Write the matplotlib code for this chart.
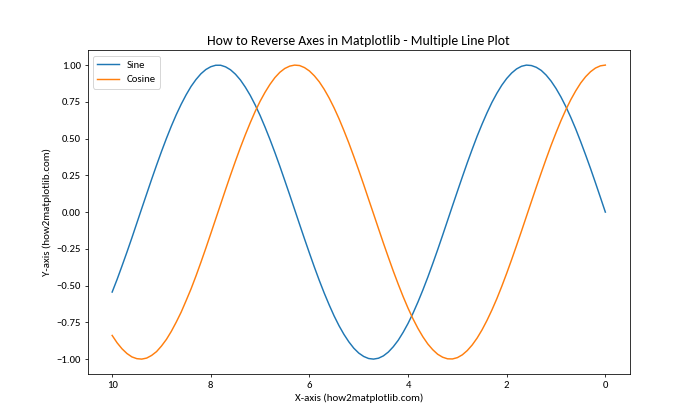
import numpy as np
import matplotlib.pyplot as plt

plt.rcParams['font.family'] = ['Carlito', 'DejaVu Sans']

# x positions and curve values (step 0.1)
x_vals = [round(0.1 * i, 1) for i in range(101)]

sine_vals = [0.000, 0.100, 0.199, 0.296, 0.389, 0.479, 0.565, 0.644, 0.717, 0.783,
             0.841, 0.891, 0.932, 0.964, 0.985, 0.997, 1.000, 0.992, 0.974, 0.946,
             0.909, 0.863, 0.808, 0.746, 0.675, 0.598, 0.516, 0.427, 0.335, 0.239,
             0.141, 0.042, -0.058, -0.158, -0.256, -0.351, -0.443, -0.530, -0.612, -0.688,
             -0.757, -0.818, -0.872, -0.916, -0.952, -0.978, -0.994, -1.000, -0.996, -0.982,
             -0.959, -0.926, -0.883, -0.832, -0.773, -0.706, -0.631, -0.551, -0.465, -0.374,
             -0.279, -0.182, -0.083, 0.017, 0.117, 0.215, 0.312, 0.405, 0.494, 0.578,
             0.657, 0.729, 0.794, 0.850, 0.899, 0.938, 0.968, 0.988, 0.999, 0.999,
             0.989, 0.970, 0.941, 0.902, 0.855, 0.798, 0.734, 0.663, 0.585, 0.501,
             0.412, 0.319, 0.223, 0.124, 0.025, -0.075, -0.175, -0.272, -0.366, -0.458,
             -0.544]

cosine_vals = [1.000, 0.995, 0.980, 0.955, 0.921, 0.878, 0.825, 0.765, 0.697, 0.622,
               0.540, 0.454, 0.362, 0.267, 0.170, 0.071, -0.029, -0.129, -0.227, -0.323,
               -0.416, -0.505, -0.589, -0.666, -0.737, -0.801, -0.857, -0.904, -0.942, -0.971,
               -0.990, -0.999, -0.998, -0.987, -0.967, -0.936, -0.897, -0.848, -0.791, -0.726,
               -0.654, -0.575, -0.490, -0.401, -0.307, -0.211, -0.112, -0.012, 0.087, 0.187,
               0.284, 0.378, 0.469, 0.554, 0.635, 0.709, 0.776, 0.835, 0.886, 0.927,
               0.960, 0.983, 0.997, 1.000, 0.993, 0.977, 0.951, 0.915, 0.869, 0.815,
               0.754, 0.685, 0.608, 0.526, 0.439, 0.347, 0.252, 0.154, 0.054, -0.046,
               -0.146, -0.245, -0.341, -0.434, -0.522, -0.602, -0.680, -0.748, -0.811, -0.866,
               -0.911, -0.949, -0.975, -0.993, -1.000, -0.997, -0.985, -0.962, -0.930, -0.889,
               -0.839]

fig, ax = plt.subplots(figsize=(10, 6), dpi=70)
ax.plot(x_vals, sine_vals, label='Sine')
ax.plot(x_vals, cosine_vals, label='Cosine')
ax.invert_xaxis()
ax.set_title('How to Reverse Axes in Matplotlib - Multiple Line Plot', fontsize=14.1)
ax.set_xlabel('X-axis (how2matplotlib.com)', fontsize=11.3)
ax.set_ylabel('Y-axis (how2matplotlib.com)', fontsize=11.3)
ax.tick_params(labelsize=11)
ax.legend(loc='upper left', fontsize=11)

fig.savefig('out.png', dpi=70)
